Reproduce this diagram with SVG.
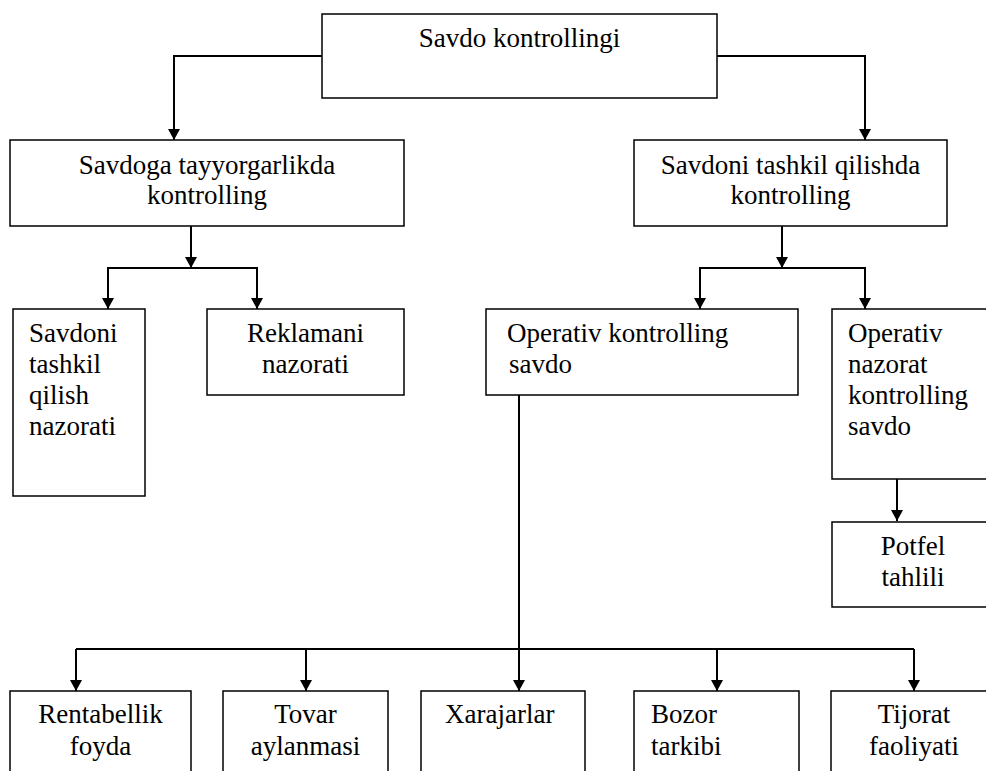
<svg xmlns="http://www.w3.org/2000/svg" width="986" height="771" viewBox="0 0 986 771" font-family="Liberation Serif, DejaVu Serif, serif" font-size="27">
<style>
.box{fill:#fff;stroke:#000;stroke-width:1.5}
.bg{fill:#fff;stroke:none}
.c{text-anchor:middle}
.conn path{fill:none;stroke:#000;stroke-width:2}
</style>
<defs>
<marker id="ah" markerUnits="userSpaceOnUse" markerWidth="12" markerHeight="12" refX="11" refY="6" orient="auto">
<path d="M0,0 L11,6 L0,12 z" fill="#000"/>
</marker>
</defs>
<rect class="bg" x="0" y="0" width="986" height="771"/>
<g class="conn">
<path d="M322,56 H174 V140" marker-end="url(#ah)"/>
<path d="M717,56 H865 V140" marker-end="url(#ah)"/>
<path d="M191,226 V268" marker-end="url(#ah)"/>
<path d="M191,268 H108 V309" marker-end="url(#ah)"/>
<path d="M191,268 H257 V309" marker-end="url(#ah)"/>
<path d="M782,226 V268" marker-end="url(#ah)"/>
<path d="M782,268 H700 V309" marker-end="url(#ah)"/>
<path d="M782,268 H865 V309" marker-end="url(#ah)"/>
<path d="M897,479 V521" marker-end="url(#ah)"/>
<path d="M519,395 V691" marker-end="url(#ah)"/>
<path d="M76,649 H914"/>
<path d="M76,649 V691" marker-end="url(#ah)"/>
<path d="M306,649 V691" marker-end="url(#ah)"/>
<path d="M717,649 V691" marker-end="url(#ah)"/>
<path d="M914,649 V691" marker-end="url(#ah)"/>
</g>
<g id="n-root"><rect class="box" x="322" y="14" width="395" height="84"/><text class="c" x="519.5" y="47">Savdo kontrollingi</text></g>
<g id="n-tayyor"><rect class="box" x="10" y="140" width="394" height="86"/><text class="c" x="207" y="174">Savdoga tayyorgarlikda</text><text class="c" x="207" y="204">kontrolling</text></g>
<g id="n-tashkil"><rect class="box" x="634" y="140" width="313" height="86"/><text class="c" x="790.5" y="174">Savdoni tashkil qilishda</text><text class="c" x="790.5" y="204">kontrolling</text></g>
<g id="n-savdoni"><rect class="box" x="13" y="309" width="132" height="187"/><text x="29" y="342">Savdoni</text><text x="29" y="373">tashkil</text><text x="29" y="404">qilish</text><text x="29" y="435">nazorati</text></g>
<g id="n-reklama"><rect class="box" x="207" y="309" width="197" height="86"/><text class="c" x="305.5" y="342">Reklamani</text><text class="c" x="305.5" y="373">nazorati</text></g>
<g id="n-opkont"><rect class="box" x="486" y="309" width="312" height="86"/><text x="507" y="342">Operativ kontrolling</text><text x="509" y="373">savdo</text></g>
<g id="n-opnaz"><rect class="box" x="832" y="309" width="170" height="170"/><text x="848" y="342">Operativ</text><text x="848" y="373">nazorat</text><text x="848" y="404">kontrolling</text><text x="848" y="435">savdo</text></g>
<g id="n-potfel"><rect class="box" x="832" y="522" width="164" height="85"/><text class="c" x="913" y="555">Potfel</text><text class="c" x="913" y="586">tahlili</text></g>
<g id="n-rent"><rect class="box" x="10" y="691" width="181" height="110"/><text class="c" x="100.5" y="723">Rentabellik</text><text class="c" x="100.5" y="755">foyda</text></g>
<g id="n-tovar"><rect class="box" x="223" y="691" width="165" height="110"/><text class="c" x="305.5" y="723">Tovar</text><text class="c" x="305.5" y="755">aylanmasi</text></g>
<g id="n-xara"><rect class="box" x="421" y="691" width="164" height="110"/><text x="445" y="723">Xarajarlar</text></g>
<g id="n-bozor"><rect class="box" x="634" y="691" width="165" height="110"/><text x="651" y="723">Bozor</text><text x="651" y="755">tarkibi</text></g>
<g id="n-tijorat"><rect class="box" x="831" y="691" width="166" height="110"/><text class="c" x="914" y="723">Tijorat</text><text class="c" x="914" y="755">faoliyati</text></g>
</svg>
